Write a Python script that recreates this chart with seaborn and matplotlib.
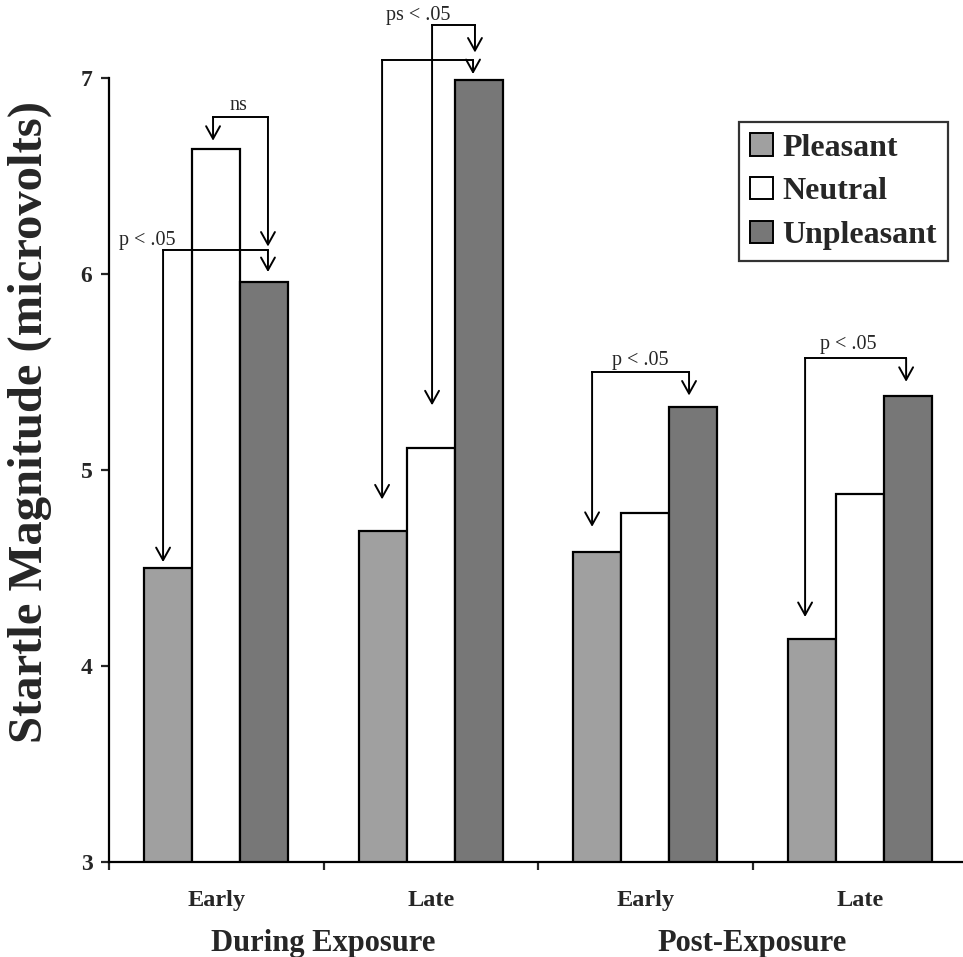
import pandas as pd
import matplotlib.pyplot as plt
import seaborn as sns
from matplotlib.patches import Patch
import matplotlib.transforms as mtransforms

# Dados do gráfico
conditions = ["During-Early", "During-Late", "Post-Early", "Post-Late"]
tick_labels = ["Early", "Late", "Early", "Late"]
phases = ["During Exposure", "Post-Exposure"]
valences = ["Pleasant", "Neutral", "Unpleasant"]
pleasant = [4.50, 4.69, 4.58, 4.14]
neutral = [6.64, 5.11, 4.78, 4.88]
unpleasant = [5.96, 6.99, 5.32, 5.38]

colors = ["#a0a0a0", "#ffffff", "#777777"]

rows = []
for i, c in enumerate(conditions):
    for v, vals in zip(valences, [pleasant, neutral, unpleasant]):
        rows.append({"Condition": c, "Valence": v, "Magnitude": vals[i]})
df = pd.DataFrame(rows)

sns.set_style("white")
plt.rcParams["font.family"] = ["Liberation Serif", "DejaVu Serif"]

fig = plt.figure(figsize=(9.63, 9.57), dpi=100)
ax = fig.add_axes([0.1132, 0.0993, 0.891, 0.8192])

sns.barplot(data=df, x="Condition", y="Magnitude", hue="Valence",
            order=conditions, hue_order=valences, palette=colors,
            width=0.67, edgecolor="black", linewidth=1.6, saturation=1,
            legend=False, ax=ax)

ax.set_ylim(3, 7)
ax.set_xlim(-0.5, 3.5)
sns.despine(ax=ax, top=True, right=True)
for s in ["left", "bottom"]:
    ax.spines[s].set_linewidth(1.6)
    ax.spines[s].set_color("black")

# eixo y
ax.set_yticks([3, 4, 5, 6, 7])
ax.set_yticklabels(["3", "4", "5", "6", "7"], fontsize=17, fontweight="bold")
ax.tick_params(axis="y", direction="out", length=6, width=1.6, pad=6, left=True)
ax.set_ylabel("Startle Magnitude (microvolts)", fontsize=35, fontweight="bold")
ax.yaxis.set_label_coords(-0.066, 0.561)

# eixo x: marcas nas fronteiras, rótulos no centro
ax.set_xticks([-0.5, 0.5, 1.5, 2.5, 3.5])
ax.set_xticklabels([])
ax.tick_params(axis="x", which="major", direction="out", length=6, width=1.6,
               bottom=True)
ax.set_xticks([0, 1, 2, 3], minor=True)
ax.set_xticklabels(tick_labels, minor=True, fontsize=17.5, fontweight="bold")
ax.tick_params(axis="x", which="minor", length=0, pad=20)
ax.set_xlabel("")

trans = mtransforms.blended_transform_factory(ax.transData, ax.transAxes)
for pos, ph in zip([0.5, 2.5], phases):
    ax.text(pos, -0.085, ph, transform=trans, ha="center", va="top",
            fontsize=22, fontweight="bold")

# legenda
handles = [Patch(facecolor=c, edgecolor="black", linewidth=1.4) for c in colors]
leg = ax.legend(handles, valences, loc="upper right",
                bbox_to_anchor=(948 / 963, 1 - 122 / 957),
                bbox_transform=fig.transFigure, borderaxespad=0,
                prop={"family": ["Liberation Serif"], "weight": "bold", "size": 23},
                handlelength=0.7, handleheight=0.7, handletextpad=0.3,
                labelspacing=0.45, borderpad=0.35, fancybox=False, frameon=True)
leg.get_frame().set_edgecolor("black")
leg.get_frame().set_linewidth(1.6)

# anotações de significância: (x0, x1, nível, ponta0, ponta1, texto, xt, yt)
brackets = [
    (-0.248, 0.241, 6.12, 4.53, 6.01, "p < .05", -0.323, 6.17),
    (-0.015, 0.241, 6.80, 6.68, 6.14, "ns", 0.101, 6.86),
    (0.773, 1.197, 7.09, 4.85, 7.02, None, None, None),
    (1.006, 1.206, 7.27, 5.33, 7.13, "ps < .05", 0.94, 7.32),
    (1.752, 2.204, 5.50, 4.71, 5.38, "p < .05", 1.976, 5.56),
    (2.745, 3.216, 5.57, 4.25, 5.45, "p < .05", 2.945, 5.64),
]
for x0, x1, lvl, t0, t1, txt, xt, yt in brackets:
    ax.plot([x0, x1], [lvl, lvl], color="black", lw=1.4, clip_on=False,
            solid_capstyle="projecting")
    for x, t in [(x0, t0), (x1, t1)]:
        ax.annotate("", xy=(x, t), xytext=(x, lvl), annotation_clip=False,
                    arrowprops=dict(arrowstyle="->,head_length=0.45,head_width=0.25",
                                    color="black", lw=1.4, shrinkA=0, shrinkB=0,
                                    mutation_scale=20))
    if txt:
        ax.text(xt, yt, txt, ha="center", va="center", fontsize=14.5,
                clip_on=False)

fig.savefig("out.png", dpi=100)
